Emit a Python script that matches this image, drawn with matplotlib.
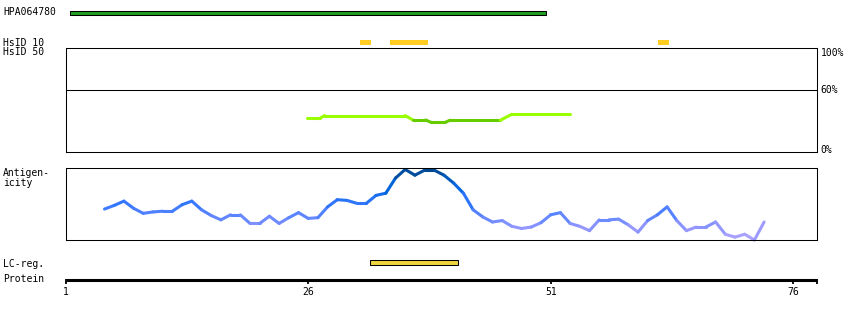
import matplotlib
matplotlib.use('Agg')
import matplotlib.pyplot as plt
from matplotlib.patches import Rectangle
from matplotlib.collections import LineCollection
from matplotlib.colors import LinearSegmentedColormap
import numpy as np

# Données
antibody_name = "HPA064780"
antigen_start, antigen_end = 1.44, 50.48
hsid10_start = [31.3, 34.4, 62.1]
hsid10_end = [32.5, 38.4, 63.2]
lcreg_start = [32.4]
lcreg_end = [41.4]
protein_end = 78.5
tick_residues = [1, 26, 51, 76]
pct_ticks = [100, 60, 0]

identity_pos = [25.9, 27.2, 27.7, 36.0, 36.8, 38.1, 38.7, 40.1, 40.6, 45.8, 47.0, 53.0]
identity_pct = [32.4, 32.4, 35.0, 35.0, 30.8, 30.8, 28.4, 28.4, 30.5, 30.5, 36.3, 36.3]

antigen_res = list(range(5, 74))
antigen_val = [0.43, 0.48, 0.54, 0.44, 0.37, 0.39, 0.40, 0.40, 0.49, 0.54,
               0.42, 0.34, 0.28, 0.35, 0.35, 0.23, 0.23, 0.33, 0.23, 0.31,
               0.38, 0.30, 0.31, 0.46, 0.56, 0.55, 0.51, 0.51, 0.62, 0.65,
               0.86, 0.98, 0.90, 0.97, 0.97, 0.90, 0.79, 0.65, 0.42, 0.32,
               0.25, 0.27, 0.19, 0.16, 0.18, 0.24, 0.35, 0.38, 0.23, 0.19,
               0.13, 0.28, 0.28, 0.29, 0.21, 0.11, 0.27, 0.35, 0.46, 0.27,
               0.13, 0.18, 0.18, 0.25, 0.08, 0.04, 0.08, 0.00, 0.25]

W, H = 850, 320
X0, PX_PER_RES = 65.7, 9.7  # pixel du résidu 1, pixels par résidu
FONT = dict(family='DejaVu Sans Mono', fontsize=7, color='black')


def px_axes(fig, x0, y0, x1, y1):
    return fig.add_axes([x0 / W, 1 - y1 / H, (x1 - x0) / W, (y1 - y0) / H])


def res_px(r):
    return X0 + (r - 1) * PX_PER_RES


fig = plt.figure(figsize=(W / 100, H / 100), dpi=100)

# Axe principal : x en résidus, y en pixels
ax = px_axes(fig, 0, 0, W, H)
ax.set_xlim(1 - X0 / PX_PER_RES, 1 + (W - X0) / PX_PER_RES)
ax.set_ylim(H, 0)
ax.axis('off')

# Antigène
ax.add_patch(Rectangle((antigen_start, 10.5), antigen_end - antigen_start, 4,
                       facecolor='#22a022', edgecolor='black', lw=0.75))
ax.text(3 / W, 1 - 12 / H, antibody_name, transform=ax.transAxes, va='center', **FONT)

# HsID
for s, e in zip(hsid10_start, hsid10_end):
    ax.add_patch(Rectangle((s, 40), e - s, 4.7, facecolor='#ffcc22', edgecolor='none'))
ax.text(3 / W, 1 - 42.5 / H, "HsID 10", transform=ax.transAxes, va='center', **FONT)
ax.text(3 / W, 1 - 52 / H, "HsID 50", transform=ax.transAxes, va='center', **FONT)

# LC-reg
for s, e in zip(lcreg_start, lcreg_end):
    ax.add_patch(Rectangle((s, 260), e - s, 4.7, facecolor='#eed540',
                           edgecolor='black', lw=0.75))
ax.text(3 / W, 1 - 264 / H, "LC-reg.", transform=ax.transAxes, va='center', **FONT)

# Axe protéine
ax.plot([1, protein_end], [279.5, 279.5], color='black', lw=2.2, solid_capstyle='butt')
for t in tick_residues + [protein_end]:
    ax.plot([t, t], [278.5, 283.5], color='black', lw=1.3, solid_capstyle='butt')
for t in tick_residues:
    ax.text(t, 292, str(t), ha='center', va='center', **FONT)
ax.text(3 / W, 1 - 279.5 / H, "Protein", transform=ax.transAxes, va='center', **FONT)

# Panneau identité
x_left, x_right = res_px(1), res_px(protein_end)
ax_id = px_axes(fig, x_left, 48, x_right, 152)
ax_id.set_xlim(1, protein_end)
ax_id.set_ylim(0, 100)
ax_id.set_xticks([])
ax_id.set_yticks([])
for sp in ax_id.spines.values():
    sp.set_linewidth(0.75)
ax_id.axhline(60, color='black', lw=0.75)
pts = np.column_stack([identity_pos, identity_pct])
segs = np.stack([pts[:-1], pts[1:]], axis=1)
seg_mean = (np.array(identity_pct[:-1]) + np.array(identity_pct[1:])) / 2
seg_cols = ['#99ff00' if m >= 32 else '#66cc00' for m in seg_mean]
ax_id.add_collection(LineCollection(segs, colors=seg_cols, linewidths=2.2,
                                    capstyle='round'))
label_y = {100: 95, 60: 60, 0: 2}
for p in pct_ticks:
    ax_id.text(1.004, label_y[p] / 100, f"{p}%", transform=ax_id.transAxes,
               ha='left', va='center', **FONT)

# Panneau antigénicité
ax_ag = px_axes(fig, x_left, 168, x_right, 240)
ax_ag.set_xlim(1, protein_end)
ax_ag.set_ylim(0, 1)
ax_ag.set_xticks([])
ax_ag.set_yticks([])
for sp in ax_ag.spines.values():
    sp.set_linewidth(0.75)
cmap = LinearSegmentedColormap.from_list(
    'ag', [(0.0, '#b0a4ff'), (0.15, '#9999ff'), (0.3, '#6688ff'),
           (0.5, '#3377ff'), (0.75, '#0066dd'), (1.0, '#004488')])
pts = np.column_stack([antigen_res, antigen_val])
segs = np.stack([pts[:-1], pts[1:]], axis=1)
lc = LineCollection(segs, cmap=cmap, linewidths=2.2, capstyle='round', clip_on=False)
lc.set_array((np.array(antigen_val[:-1]) + np.array(antigen_val[1:])) / 2)
lc.set_clim(0, 1)
ax_ag.add_collection(lc)
ax.text(3 / W, 1 - 173.5 / H, "Antigen-", transform=ax.transAxes, va='center', **FONT)
ax.text(3 / W, 1 - 183.5 / H, "icity", transform=ax.transAxes, va='center', **FONT)

plt.savefig('out.png', dpi=100)
plt.close()
